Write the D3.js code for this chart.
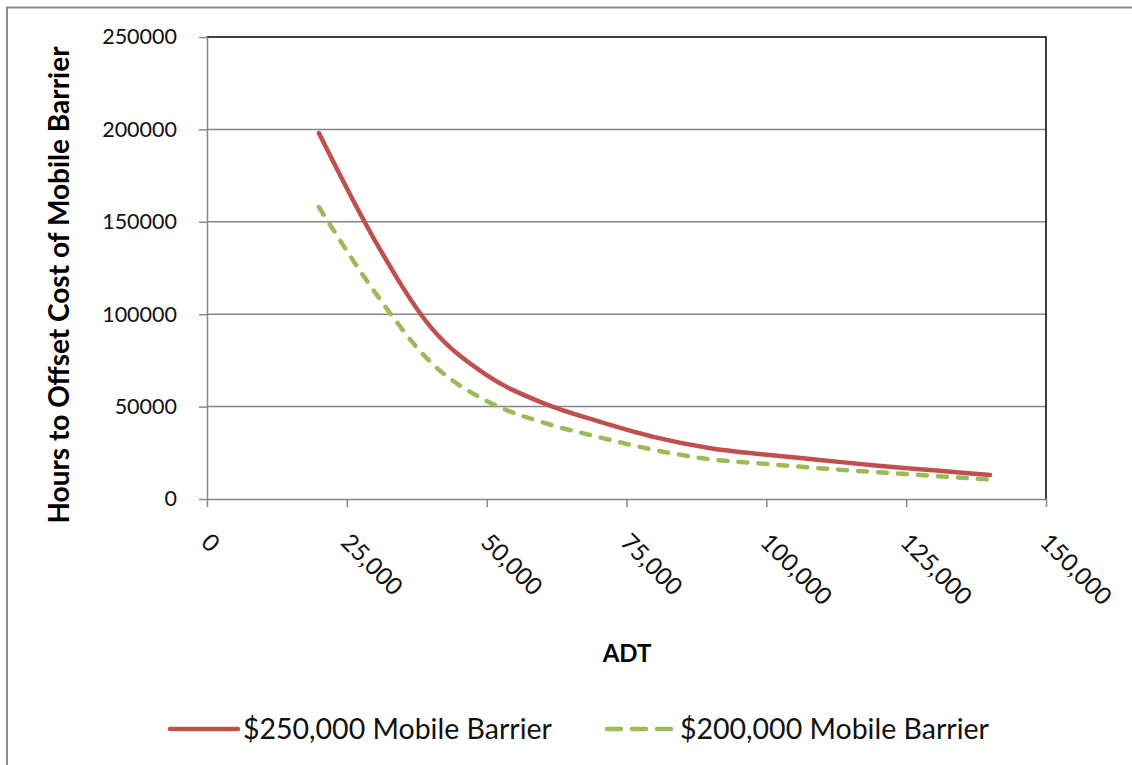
<!DOCTYPE html>
<html>
<head>
<meta charset="utf-8">
<script src="https://cdn.jsdelivr.net/npm/d3@7"></script>
<style>
  html, body { margin: 0; background: #fff; overflow: hidden; }
  svg { display: block; overflow: hidden; }
</style>
</head>
<body>
<svg></svg>
<script>
// values
const adt = [20000, 30000, 40000, 50000, 60000, 70000, 80000, 90000, 100000, 110000, 120000, 130000, 140000];
const barrier250 = [198000, 140000, 93000, 67000, 52000, 42000, 33500, 27500, 24000, 21000, 18000, 15500, 13000];
const barrier200 = [158000, 112000, 74000, 53000, 41500, 33500, 26500, 21500, 19000, 16500, 14500, 12500, 10500];
const seriesNames = ['$250,000 Mobile Barrier', '$200,000 Mobile Barrier'];
const xTicks = [0, 25000, 50000, 75000, 100000, 125000, 150000];
const yTicks = [0, 50000, 100000, 150000, 200000, 250000];

const width = 1132, height = 765;
const margin = { top: 37, right: 86, bottom: 266, left: 207 };
const innerWidth = width - margin.left - margin.right;
const innerHeight = height - margin.top - margin.bottom;
const font = 'Lato, "Open Sans", sans-serif';
const axisGray = '#868686';

const svg = d3.select('svg')
    .attr('width', width)
    .attr('height', height)
    .style('font-family', font);

// chart frame (runs off the page at right and bottom)
svg.append('path')
    .attr('d', `M7,${height + 10}V7.5H${width + 10}`)
    .attr('fill', 'none')
    .attr('stroke', '#8e8e8e')
    .attr('stroke-width', 2);

const x = d3.scaleLinear().domain([0, 150000]).range([0, innerWidth]);
const y = d3.scaleLinear().domain([0, 250000]).range([innerHeight, 0]);

const g = svg.append('g')
    .attr('transform', `translate(${margin.left}, ${margin.top})`);

// gridlines
g.selectAll('line.grid').data(yTicks.filter(d => d > 0 && d < 250000))
    .enter().append('line')
    .attr('class', 'grid')
    .attr('x1', 0).attr('x2', innerWidth)
    .attr('y1', d => y(d)).attr('y2', d => y(d))
    .attr('stroke', axisGray)
    .attr('stroke-width', 1.5);

// top and right border of plot area
g.append('path')
    .attr('d', `M0,${y(250000)}H${innerWidth}V${innerHeight}`)
    .attr('fill', 'none')
    .attr('stroke', '#000')
    .attr('stroke-width', 1.5);

// y axis
const yAxis = g.append('g')
    .call(d3.axisLeft(y).tickValues(yTicks).tickFormat(d3.format('d')).tickSize(8).tickSizeOuter(0).tickPadding(22));
yAxis.select('.domain').attr('stroke', axisGray).attr('stroke-width', 1.5);
yAxis.selectAll('.tick line').attr('stroke', axisGray).attr('stroke-width', 1.5);
yAxis.selectAll('.tick text')
    .attr('font-family', font)
    .attr('font-size', 21.5)
    .attr('fill', '#111');

// x axis
const xAxis = g.append('g')
    .attr('transform', `translate(0, ${innerHeight})`)
    .call(d3.axisBottom(x).tickValues(xTicks).tickFormat(d3.format(',')).tickSize(8).tickSizeOuter(0));
xAxis.select('.domain').attr('stroke', axisGray).attr('stroke-width', 1.5);
xAxis.selectAll('.tick line').attr('stroke', axisGray).attr('stroke-width', 1.5);
xAxis.selectAll('.tick text')
    .attr('font-family', font)
    .attr('font-size', 24)
    .attr('fill', '#111')
    .attr('text-anchor', 'start')
    .attr('dy', 0)
    .attr('transform', 'translate(0, 37) rotate(45)');

// axis titles
svg.append('text')
    .attr('transform', `translate(69, ${margin.top + innerHeight / 2 + 17}) rotate(-90)`)
    .attr('text-anchor', 'middle')
    .attr('font-size', 28)
    .attr('font-weight', 'bold')
    .text('Hours to Offset Cost of Mobile Barrier');

svg.append('text')
    .attr('x', 627).attr('y', 662)
    .attr('text-anchor', 'middle')
    .attr('font-size', 24)
    .attr('font-weight', 'bold')
    .text('ADT');

// lines
const line = d3.line()
    .x(d => x(d[0]))
    .y(d => y(d[1]))
    .curve(d3.curveMonotoneX);

const series = [
    { name: seriesNames[0], values: d3.zip(adt, barrier250), color: '#C0504D', dash: null, keyDash: null },
    { name: seriesNames[1], values: d3.zip(adt, barrier200), color: '#9BBB59', dash: '9,11', keyDash: '14,11' }
];

g.selectAll('path.series').data(series)
    .enter().append('path')
    .attr('class', 'series')
    .attr('d', d => line(d.values))
    .attr('fill', 'none')
    .attr('stroke', d => d.color)
    .attr('stroke-width', 4.5)
    .attr('stroke-linecap', 'round')
    .attr('stroke-dasharray', d => d.dash);

// legend
const legendX = [168, 605];
const legend = svg.selectAll('g.legend').data(series)
    .enter().append('g')
    .attr('class', 'legend')
    .attr('transform', (d, i) => `translate(${legendX[i]}, 729)`);

legend.append('line')
    .attr('x1', 2).attr('x2', 70)
    .attr('stroke', d => d.color)
    .attr('stroke-width', 4.5)
    .attr('stroke-linecap', 'round')
    .attr('stroke-dasharray', d => d.keyDash);

legend.append('text')
    .attr('x', 75)
    .attr('dy', '0.35em')
    .attr('font-size', 28.5)
    .attr('fill', '#111')
    .text(d => d.name);
</script>
</body>
</html>
